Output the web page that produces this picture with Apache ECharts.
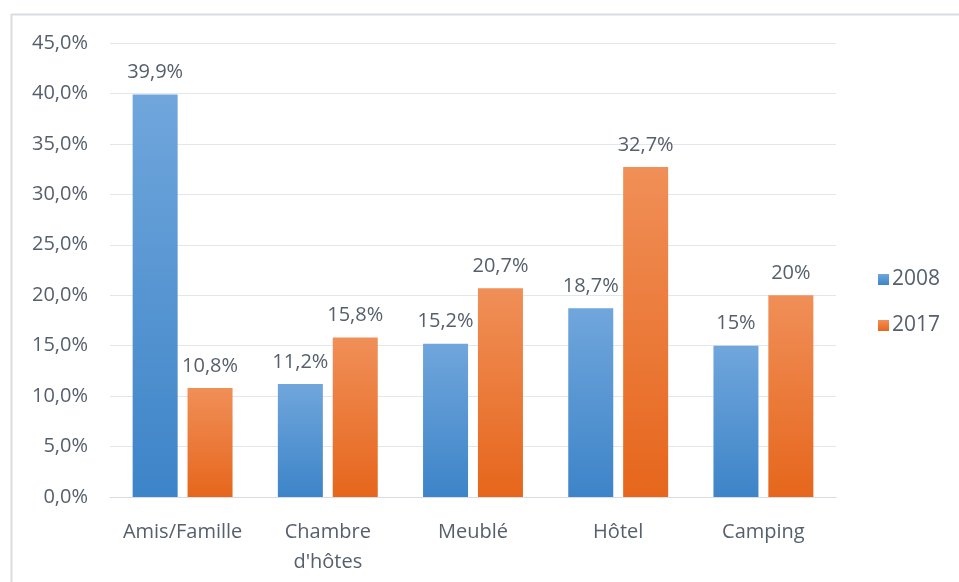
<!DOCTYPE html>
<html>
<head>
<meta charset="utf-8">
<script src="https://cdn.jsdelivr.net/npm/echarts@6/dist/echarts.min.js"></script>
<style>
  html, body { margin: 0; padding: 0; background: #fff; }
  #chart { width: 959px; height: 582px; }
</style>
</head>
<body>
<div id="chart"></div>
<script>
const categories = ['Amis/Famille', 'Chambre\nd\'hôtes', 'Meublé', 'Hôtel', 'Camping']
const values2008 = [39.9, 11.2, 15.2, 18.7, 15]
const values2017 = [10.8, 15.8, 20.7, 32.7, 20]
const labels2008 = ['39,9%', '11,2%', '15,2%', '18,7%', '15%']
const labels2017 = ['10,8%', '15,8%', '20,7%', '32,7%', '20%']

const textColor = '#56606d'
const font = 'Open Sans'

const gradient = (top, bottom) => ({
  type: 'linear', x: 0, y: 0, x2: 0, y2: 1,
  colorStops: [
    { offset: 0, color: top },
    { offset: 1, color: bottom }
  ]
})

const makeSeries = (name, data, labels, top, bottom) => ({
  name: name,
  type: 'bar',
  data: data,
  barWidth: 45,
  barGap: '22%',
  itemStyle: { color: gradient(top, bottom) },
  label: {
    show: true,
    position: 'top',
    distance: 12,
    color: textColor,
    fontFamily: font,
    fontSize: 20,
    formatter: (p) => labels[p.dataIndex]
  }
})

const myChart = echarts.init(document.getElementById('chart'))
myChart.setOption({
  animation: false,
  textStyle: { fontFamily: font },
  graphic: [
    { type: 'line', shape: { x1: 11, y1: 14.5, x2: 959, y2: 14.5 }, style: { stroke: '#d9dde3', lineWidth: 2 } },
    { type: 'line', shape: { x1: 11.5, y1: 14, x2: 11.5, y2: 582 }, style: { stroke: '#d9dde3', lineWidth: 2 } }
  ],
  grid: { left: 110, right: 123, top: 43, bottom: 85 },
  legend: {
    orient: 'vertical',
    left: 873,
    top: 264,
    itemWidth: 11,
    itemHeight: 11,
    itemGap: 25,
    icon: 'rect',
    textStyle: { color: textColor, fontFamily: font, fontSize: 21, padding: [0, 0, 0, -2] },
    data: ['2008', '2017']
  },
  xAxis: {
    type: 'category',
    data: categories,
    axisLine: { lineStyle: { color: '#d9dde3', width: 1 } },
    axisTick: { show: false },
    axisLabel: {
      interval: 0,
      color: textColor,
      fontFamily: font,
      fontSize: 20,
      lineHeight: 30,
      margin: 20
    }
  },
  yAxis: {
    type: 'value',
    min: 0,
    max: 45,
    interval: 5,
    axisLine: { show: false },
    axisTick: { show: false },
    splitLine: { lineStyle: { color: '#e3e6eb', width: 1 } },
    axisLabel: {
      color: textColor,
      fontFamily: font,
      fontSize: 20,
      margin: 22,
      formatter: (v) => v.toFixed(1).replace('.', ',') + '%'
    }
  },
  series: [
    makeSeries('2008', values2008, labels2008, '#70a6dc', '#3d84c8'),
    makeSeries('2017', values2017, labels2017, '#f08f58', '#e6661c')
  ]
})
</script>
</body>
</html>
